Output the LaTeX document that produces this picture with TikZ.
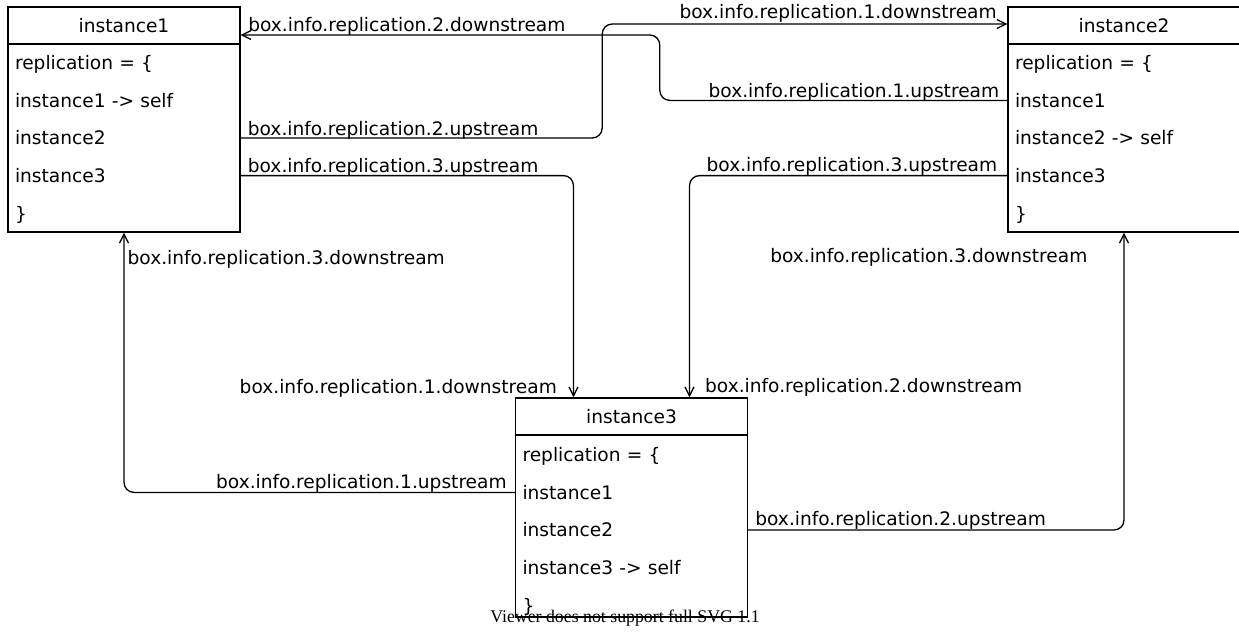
\documentclass[tikz,border=0pt]{standalone}
\usepackage{fontspec}
\setmainfont{DejaVu Sans}
\newfontfamily\viewerfont{Liberation Serif}
\usetikzlibrary{arrows.meta}
\begin{document}
\begin{tikzpicture}[x=1pt,y=-1pt,
  font=\fontsize{18.6}{22}\selectfont,
  box/.style={draw, line width=1.3pt, minimum width=232pt, inner sep=0pt},
  hdr/.style={draw, line width=1.3pt, minimum width=232pt, minimum height=37pt, inner sep=0pt, text height=13.6pt, text depth=0pt},
  row/.style={inner xsep=7pt, inner ysep=0pt, text width=218pt, align=left, minimum height=37.6pt, text height=13.6pt, text depth=0pt},
  conn/.style={line width=1.3pt, rounded corners=10pt, -{Straight Barb[length=9pt,width=9pt]}},
  lbl/.style={inner sep=0pt},
]
\useasboundingbox (0,0) rectangle (1239,632);

% instance1
\node[box, minimum height=225pt] (i1) at (124,119.5) {};
\node[hdr] (i1h) at (124,25.5) {instance1};
\node[row] (i1r1) at (124,62.8) {replication = \{};
\node[row] (i1r2) at (124,100.4) {instance1 -> self};
\node[row] (i1r3) at (124,138) {instance2};
\node[row] (i1r4) at (124,175.6) {instance3};
\node[row] (i1r5) at (124,213.2) {\}};

% instance2
\node[box, minimum height=225pt] (i2) at (1124,119.5) {};
\node[hdr] (i2h) at (1124,25.5) {instance2};
\node[row] (i2r1) at (1124,62.8) {replication = \{};
\node[row] (i2r2) at (1124,100.4) {instance1};
\node[row] (i2r3) at (1124,138) {instance2 -> self};
\node[row] (i2r4) at (1124,175.6) {instance3};
\node[row] (i2r5) at (1124,213.2) {\}};

% instance3
\node[box, minimum height=219pt] (i3) at (631.5,507.5) {};
\node[hdr] (i3h) at (631.5,416.5) {instance3};
\node[row] (i3r1) at (631.5,454.8) {replication = \{};
\node[row] (i3r2) at (631.5,492.4) {instance1};
\node[row] (i3r3) at (631.5,530) {instance2};
\node[row] (i3r4) at (631.5,567.6) {instance3 -> self};
\node[row] (i3r5) at (631.5,605.2) {\}};

% connectors
\draw[conn] (i2r2.west) node[lbl, anchor=base east, xshift=-8pt, yshift=3pt] {box.info.replication.1.upstream}
  -- ++(-348,0) |- ([yshift=-9.5pt]i1h.east)
  node[lbl, anchor=base west, xshift=7pt, yshift=4pt] {box.info.replication.2.downstream};

\draw[conn] (i1r3.east) node[lbl, anchor=base west, xshift=7pt, yshift=3pt] {box.info.replication.2.upstream}
  -- ++(362,0) |- ([yshift=1.5pt]i2h.west)
  node[lbl, anchor=base east, xshift=-10pt, yshift=6pt] {box.info.replication.1.downstream};

\draw[conn] (i1r4.east) node[lbl, anchor=base west, xshift=7pt, yshift=3pt] {box.info.replication.3.upstream}
  -| ([xshift=-58pt]i3h.north)
  node[lbl, anchor=base east, xshift=-16pt, yshift=4pt] {box.info.replication.1.downstream};

\draw[conn] (i2r4.west) node[lbl, anchor=base east, xshift=-10pt, yshift=4pt] {box.info.replication.3.upstream}
  -| ([xshift=58pt]i3h.north)
  node[lbl, anchor=base west, xshift=15pt, yshift=5pt] {box.info.replication.2.downstream};

\draw[conn] (i3r2.west) node[lbl, anchor=base east, xshift=-8pt, yshift=4pt] {box.info.replication.1.upstream}
  -| (i1.south)
  node[lbl, anchor=base west, xshift=3pt, yshift=-32pt] {box.info.replication.3.downstream};

\draw[conn] (i3r3.east) node[lbl, anchor=base west, xshift=7pt, yshift=5pt] {box.info.replication.2.upstream}
  -| (i2.south)
  node[lbl, anchor=base east, xshift=-36pt, yshift=-30pt] {box.info.replication.3.downstream};

\node[font=\viewerfont\fontsize{17.8}{20}\selectfont, anchor=base, inner sep=0pt] (svgnote) at (625,622) {Viewer does not support full SVG 1.1};
\end{tikzpicture}
\end{document}
